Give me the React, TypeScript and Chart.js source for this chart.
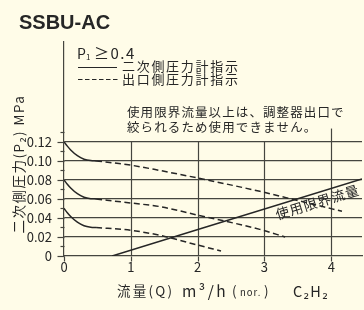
import React, { useEffect, useRef } from 'react';
import { Chart, registerables } from 'chart.js';

Chart.register(...registerables);

const FONT = '"Noto Sans CJK JP", "Noto Sans", sans-serif';
const INK = '#262626';
const GRID = '#45453f';
const BG = '#fffce8';

// axes
const xTickLabels = ['0', '1', '2', '3', '4'];
const yTickLabels = ['0', '0.02', '0.04', '0.06', '0.08', '0.10', '0.12'];
const yMarkValues = [0, 0.01, 0.02, 0.03, 0.04, 0.05, 0.06, 0.07, 0.08, 0.09, 0.1, 0.11, 0.12, 0.13];
const xMarkValues = [0, 1, 2, 3, 4];
const vGridValues = [1, 2, 3, 4];
const vGridTops = [0.12, 0.12, 0.12, 0.134];

// 二次側圧力計指示 (solid)
const solidHighX = [0, 0.05, 0.1, 0.2, 0.3, 0.4, 0.48];
const solidHighY = [0.12, 0.1155, 0.1115, 0.1055, 0.1018, 0.1003, 0.1];
const solidMidX = [0, 0.05, 0.1, 0.2, 0.3, 0.4, 0.48];
const solidMidY = [0.08, 0.0755, 0.0715, 0.0655, 0.0618, 0.0603, 0.06];
const solidLowX = [0, 0.05, 0.1, 0.2, 0.3, 0.4, 0.48];
const solidLowY = [0.05, 0.0455, 0.0415, 0.0355, 0.0318, 0.0303, 0.03];

// 出口側圧力計指示 (dashed)
const dashHighX = [0.48, 1.0, 1.43, 2.0, 2.93, 3.5, 4.16];
const dashHighY = [0.1, 0.0955, 0.09, 0.082, 0.068, 0.0583, 0.047];
const dashMidX = [0.48, 1.0, 1.43, 2.0, 2.93, 3.31];
const dashMidY = [0.06, 0.0557, 0.052, 0.043, 0.028, 0.02];
const dashLowX = [0.48, 1.0, 1.43, 2.0, 2.35];
const dashLowY = [0.03, 0.027, 0.0218, 0.0115, 0.0053];

// 使用限界流量
const limitX = [0.72, 4.46];
const limitY = [0, 0.081];

const pts = (xs: number[], ys: number[]) => xs.map((x, i) => ({ x, y: ys[i] }));

function drawText(ctx: any, s: string, x: number, y: number, size: number, opts: any = {}) {
  ctx.save();
  ctx.font = `${opts.bold ? 'bold ' : ''}${size}px ${opts.family || FONT}`;
  ctx.fillStyle = INK;
  ctx.textBaseline = opts.baseline || 'middle';
  ctx.textAlign = opts.align || 'left';
  ctx.letterSpacing = (opts.spacing ?? 0) + 'px';
  ctx.fillText(s, x, y);
  const w = ctx.measureText(s).width;
  ctx.restore();
  return w;
}

const overlay = {
  id: 'overlay',
  beforeDatasetsDraw(chart: any) {
    const { ctx } = chart;
    const x = chart.scales.x;
    const y = chart.scales.y;
    ctx.save();
    ctx.strokeStyle = GRID;
    ctx.lineWidth = 1.2;
    vGridValues.forEach((v, i) => {
      const px = Math.round(x.getPixelForValue(v)) + 0.5;
      ctx.beginPath();
      ctx.moveTo(px, y.getPixelForValue(0));
      ctx.lineTo(px, y.getPixelForValue(vGridTops[i]));
      ctx.stroke();
    });
    const left = Math.round(x.getPixelForValue(0)) + 0.5;
    yMarkValues.forEach((v, i) => {
      const py = Math.round(y.getPixelForValue(v)) + 0.5;
      const len = i % 2 === 0 ? 7 : 4;
      ctx.beginPath();
      ctx.moveTo(left - len, py);
      ctx.lineTo(left, py);
      ctx.stroke();
    });
    const bottom = Math.round(y.getPixelForValue(0)) + 0.5;
    xMarkValues.forEach((v) => {
      const px = Math.round(x.getPixelForValue(v)) + 0.5;
      ctx.beginPath();
      ctx.moveTo(px, bottom);
      ctx.lineTo(px, bottom + 5);
      ctx.stroke();
    });
    ctx.restore();
  },
  afterDraw(chart: any) {
    const { ctx } = chart;
    const x = chart.scales.x;
    const y = chart.scales.y;

    drawText(ctx, 'SSBU-AC', 19, 28.5, 20, { bold: true, baseline: 'alphabetic', family: '"Liberation Sans", Arial, sans-serif' });

    // P1 >= 0.4
    drawText(ctx, 'P', 77, 58.5, 14, { baseline: 'alphabetic' });
    drawText(ctx, '1', 86, 59.5, 8, { baseline: 'alphabetic' });
    drawText(ctx, '≥0.4', 94, 58.5, 15, { baseline: 'alphabetic', spacing: 1.5 });

    // legend
    ctx.save();
    ctx.strokeStyle = INK;
    ctx.lineWidth = 1.2;
    ctx.beginPath();
    ctx.moveTo(78, 67.5);
    ctx.lineTo(117, 67.5);
    ctx.stroke();
    ctx.setLineDash([4.5, 2.5]);
    ctx.beginPath();
    ctx.moveTo(78, 79.5);
    ctx.lineTo(119, 79.5);
    ctx.stroke();
    ctx.restore();
    drawText(ctx, '二次側圧力計指示', 122, 66, 13, { spacing: 1.7 });
    drawText(ctx, '出口側圧力計指示', 122, 79, 13, { spacing: 1.7 });

    drawText(ctx, '使用限界流量以上は、調整器出口で', 127, 112, 12.5, { spacing: 1.1 });
    drawText(ctx, '絞られるため使用できません。', 127, 127, 12.5, { spacing: 1.1 });

    // y title
    ctx.save();
    ctx.translate(19, 164);
    ctx.rotate(-Math.PI / 2);
    drawText(ctx, '二次側圧力(P₂) MPa', 0, 0, 13.5, { align: 'center', spacing: 1.5 });
    ctx.restore();

    // x title
    drawText(ctx, '流量(Q)', 117, 291, 13.5, { spacing: 2.2 });
    drawText(ctx, 'm³/h', 182, 291, 15.5, { spacing: 2.5 });
    drawText(ctx, '(', 232, 291, 13.5);
    drawText(ctx, 'nor.', 240, 292, 9.5, { spacing: 1 });
    drawText(ctx, ')', 264, 291, 13.5);
    drawText(ctx, 'C₂H₂', 293, 291, 14.5, { spacing: 1.5 });

    // limit label along the line
    const x0 = x.getPixelForValue(limitX[0]);
    const y0 = y.getPixelForValue(limitY[0]);
    const x1 = x.getPixelForValue(limitX[1]);
    const y1 = y.getPixelForValue(limitY[1]);
    const ang = Math.atan2(y1 - y0, x1 - x0);
    const t = (3.755 - limitX[0]) / (limitX[1] - limitX[0]);
    ctx.save();
    ctx.translate(x0 + (x1 - x0) * t, y0 + (y1 - y0) * t);
    ctx.rotate(ang);
    drawText(ctx, '使用限界流量', 0, 9, 13.5, { align: 'center', spacing: 1 });
    ctx.restore();
  },
};

export default function App() {
  const ref = useRef<HTMLCanvasElement | null>(null);

  useEffect(() => {
    document.body.style.margin = '0';
    document.body.style.background = BG;
    const canvas = ref.current;
    if (!canvas) return;
    const solid = { borderColor: INK, borderWidth: 1.5, pointRadius: 0, fill: false, tension: 0.4, cubicInterpolationMode: 'monotone' as const };
    const dashed = { ...solid, borderDash: [6, 3.5] };
    const chart = new Chart(canvas, {
      type: 'line',
      data: {
        datasets: [
          { ...solid, data: pts(solidHighX, solidHighY) },
          { ...solid, data: pts(solidMidX, solidMidY) },
          { ...solid, data: pts(solidLowX, solidLowY) },
          { ...dashed, data: pts(dashHighX, dashHighY) },
          { ...dashed, data: pts(dashMidX, dashMidY) },
          { ...dashed, data: pts(dashLowX, dashLowY) },
          { ...solid, tension: 0, data: pts(limitX, limitY) },
        ] as any,
      },
      options: {
        animation: false,
        responsive: false,
        devicePixelRatio: 1,
        events: [],
        layout: { padding: { left: 0, right: 2, top: 42, bottom: 0 } },
        plugins: { legend: { display: false }, tooltip: { enabled: false }, title: { display: false } },
        scales: {
          x: {
            type: 'linear',
            min: 0,
            max: 4.46,
            afterFit: (s: any) => { s.height = 54; },
            grid: { display: false, drawTicks: false },
            border: { display: true, color: GRID, width: 1.2 },
            ticks: {
              stepSize: 1,
              includeBounds: false,
              autoSkip: false,
              maxRotation: 0,
              padding: 3,
              color: INK,
              font: { family: FONT, size: 13 },
              callback: (_v: any, i: number) => xTickLabels[i] ?? '',
            },
          },
          y: {
            type: 'linear',
            min: 0,
            max: 0.225,
            afterFit: (s: any) => { s.width = 64; },
            grid: {
              drawTicks: false,
              lineWidth: 1.2,
              color: (c: any) => (c.index >= 1 && c.index <= 6 ? GRID : 'rgba(0,0,0,0)'),
            },
            border: { display: true, color: GRID, width: 1.2 },
            ticks: {
              stepSize: 0.02,
              includeBounds: false,
              autoSkip: false,
              padding: 12,
              color: INK,
              font: { family: FONT, size: 13 },
              callback: (_v: any, i: number) => yTickLabels[i] ?? '',
            },
          },
        },
      },
      plugins: [overlay],
    } as any);
    return () => chart.destroy();
  }, []);

  return (
    <div style={{ position: 'absolute', left: 0, top: 0, width: 364, height: 310, background: BG }}>
      <canvas ref={ref} width={364} height={310} style={{ display: 'block' }} />
    </div>
  );
}
